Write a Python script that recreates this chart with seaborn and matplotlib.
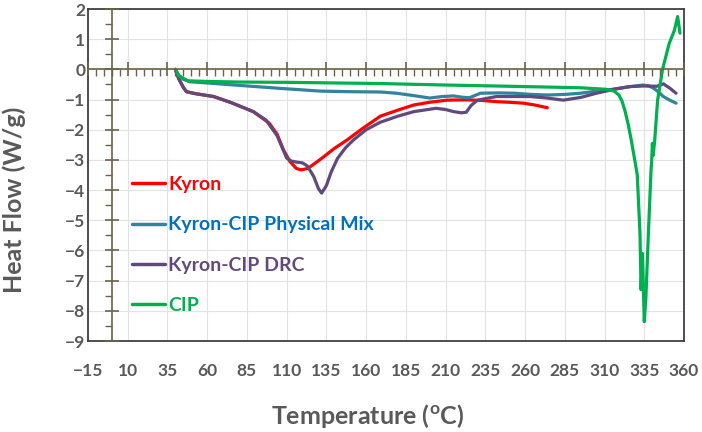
import numpy as np
import pandas as pd
import seaborn as sns
from matplotlib import pyplot as plt
from matplotlib.ticker import MultipleLocator, FixedLocator

# DSC curves
kyron_t = [40, 42, 45, 47, 52, 58, 64, 75, 89, 99, 104, 108, 112, 116, 119, 122, 125, 132, 140, 148, 158, 169, 180, 190, 200, 211, 223, 233, 242, 250, 259, 266, 274]
kyron_hf = [0, -0.3, -0.6, -0.74, -0.8, -0.85, -0.9, -1.1, -1.4, -1.78, -2.15, -2.67, -3.05, -3.28, -3.33, -3.3, -3.22, -2.95, -2.62, -2.34, -1.95, -1.55, -1.35, -1.18, -1.09, -1.02, -1.01, -1.03, -1.07, -1.09, -1.12, -1.18, -1.27]

mix_t = [40, 42, 45, 49, 60, 80, 106, 131, 150, 169, 179, 190, 200, 208, 215, 220, 225, 232, 243, 253, 264, 274, 285, 295, 305, 315, 325, 334, 338, 341, 344, 347, 351, 355]
mix_hf = [0, -0.2, -0.33, -0.41, -0.45, -0.53, -0.63, -0.72, -0.74, -0.75, -0.79, -0.87, -0.95, -0.9, -0.88, -0.92, -0.94, -0.79, -0.78, -0.79, -0.83, -0.85, -0.83, -0.79, -0.72, -0.66, -0.58, -0.52, -0.55, -0.63, -0.75, -0.9, -1.02, -1.12]

drc_t = [40, 42, 45, 47, 52, 58, 64, 75, 89, 97, 104, 110, 113, 116, 120, 123, 127, 130, 132, 135, 138, 142, 147, 152, 160, 169, 180, 190, 204, 210, 215, 220, 223, 226, 230, 242, 252, 263, 274, 284, 295, 305, 316, 326, 335, 343, 347, 351, 355]
drc_hf = [0, -0.3, -0.6, -0.74, -0.8, -0.85, -0.9, -1.1, -1.4, -1.68, -2.2, -2.94, -3.04, -3.07, -3.1, -3.2, -3.55, -3.95, -4.1, -3.85, -3.4, -2.95, -2.6, -2.34, -2.0, -1.75, -1.55, -1.4, -1.29, -1.33, -1.4, -1.44, -1.42, -1.2, -1.02, -0.9, -0.9, -0.9, -0.95, -1.02, -0.93, -0.79, -0.66, -0.57, -0.55, -0.56, -0.48, -0.62, -0.79]

cip_t = [40, 42, 45, 48, 60, 80, 110, 140, 169, 211, 250, 295, 311, 316, 319, 321, 323, 325, 327, 329, 330.6, 332.3, 333, 333.8, 334.4, 335, 336, 337.6, 339.2, 339.7, 340.1, 340.6, 341.5, 343.4, 346.5, 350.7, 354, 356, 356.8, 357.5]
cip_hf = [0, -0.2, -0.3, -0.38, -0.4, -0.42, -0.43, -0.45, -0.47, -0.52, -0.56, -0.61, -0.66, -0.72, -0.85, -1.05, -1.4, -1.85, -2.4, -3.0, -3.5, -5.43, -7.3, -6.1, -7.2, -8.36, -7.6, -5.43, -3.4, -3.0, -2.45, -2.85, -2.4, -1.02, 0.0, 0.86, 1.3, 1.75, 1.45, 1.2]

series_names = ["Kyron", "Kyron-CIP Physical Mix", "Kyron-CIP DRC", "CIP"]
line_colors = ["#FF0000", "#31849B", "#604A7B", "#00B050"]
text_colors = ["#FF0000", "#0070C0", "#604A7B", "#00B050"]

x_ticks = list(range(-15, 361, 25))
y_ticks = list(range(-9, 3))

frames = []
for name, t, hf in zip(series_names, [kyron_t, mix_t, drc_t, cip_t], [kyron_hf, mix_hf, drc_hf, cip_hf]):
    frames.append(pd.DataFrame({"Temperature": t, "HeatFlow": hf, "Sample": name}))
df = pd.concat(frames, ignore_index=True)

sns.set_style("white")
plt.rcParams["font.family"] = ["Lato", "DejaVu Sans"]
plt.rcParams["font.weight"] = "bold"

grey = "#595959"
fig = plt.figure(figsize=(7.02, 4.32), dpi=100)
pos = [88 / 702, 91 / 432, 596 / 702, 332 / 432]
ax = fig.add_axes(pos)

sns.lineplot(data=df, x="Temperature", y="HeatFlow", hue="Sample", hue_order=series_names,
             palette=line_colors, sort=False, estimator=None, linewidth=2.3, ax=ax, zorder=3)

ax.set_xlim(-15, 360)
ax.set_ylim(-9, 2)
ax.xaxis.set_major_locator(FixedLocator(x_ticks))
ax.yaxis.set_major_locator(FixedLocator(y_ticks))
ax.grid(True, color="#E3E3E3", linewidth=0.8)
ax.tick_params(length=0, labelsize=12.5, labelcolor=grey)
for lab in ax.get_xticklabels() + ax.get_yticklabels():
    lab.set_fontweight("bold")
ax.tick_params(axis="x", pad=16)
ax.tick_params(axis="y", pad=2)
for s in ax.spines.values():
    s.set_color("#404040")
    s.set_linewidth(1.3)
ax.set_xlabel("")
ax.set_ylabel("")

# Excel-style crossing axes at zero
ax2 = fig.add_axes(pos, sharex=ax, sharey=ax)
ax2.patch.set_visible(False)
ax2.grid(False)
for side in ["top", "right"]:
    ax2.spines[side].set_visible(False)
axis_col = "#6B6347"
ax2.spines["left"].set_position(("data", 0))
ax2.spines["bottom"].set_position(("data", 0))
for side in ["left", "bottom"]:
    ax2.spines[side].set_color(axis_col)
    ax2.spines[side].set_linewidth(1.2)
ax2.xaxis.set_major_locator(FixedLocator(x_ticks))
ax2.xaxis.set_minor_locator(MultipleLocator(5))
ax2.yaxis.set_major_locator(MultipleLocator(1))
ax2.yaxis.set_minor_locator(MultipleLocator(0.5))
ax2.tick_params(which="both", bottom=True, left=True, top=False, right=False,
                labelbottom=False, labelleft=False, color=axis_col)
ax2.tick_params(which="major", direction="inout", length=10, width=1.2)
ax2.tick_params(which="minor", direction="out", length=5, width=1.0)

leg = ax.legend(loc="upper left", bbox_to_anchor=(0.06, 0.52), frameon=False,
                handlelength=1.7, handletextpad=0.2, labelspacing=1.2,
                prop={"size": 14, "weight": "bold"}, labelcolor=text_colors, borderaxespad=0)
for h in leg.get_lines():
    h.set_linewidth(2.5)

fig.text(368 / 702, 1 - 416 / 432, r"Temperature ($\mathregular{^{o}}$C)", ha="center", va="center",
         fontsize=18, fontweight="bold", color=grey)
fig.text(14 / 702, 1 - 200 / 432, "Heat Flow (W/g)", ha="center", va="center", rotation=90,
         fontsize=18, fontweight="bold", color=grey)

fig.savefig("out.png", dpi=100)
